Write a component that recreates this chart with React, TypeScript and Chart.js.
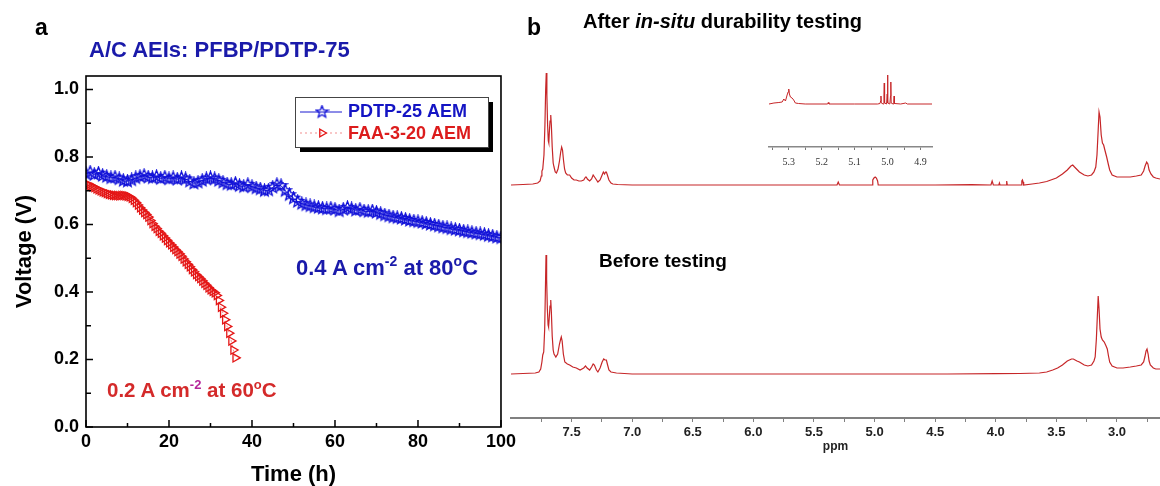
import React, { useEffect, useRef } from 'react';
import { Chart, registerables } from 'chart.js';
Chart.register(...registerables);

// ---------- Panel a data ----------
const BLUE_T = [0,1,2,3,4,5,6,7,8,9,10,11,12,13,14,15,16,17,18,19,20,21,22,23,24,25,26,27,28,29,30,31,32,33,34,35,36,37,38,39,40,41,42,43,44,45,46,47,48,49,50,51,52,53,54,55,56,57,58,59,60,61,62,63,64,65,66,67,68,69,70,71,72,73,74,75,76,77,78,79,80,81,82,83,84,85,86,87,88,89,90,91,92,93,94,95,96,97,98,99,100];
const BLUE_V = [0.750,0.755,0.748,0.752,0.745,0.742,0.738,0.740,0.735,0.730,0.728,0.732,0.738,0.742,0.745,0.740,0.738,0.742,0.736,0.740,0.735,0.738,0.734,0.738,0.735,0.728,0.722,0.725,0.730,0.735,0.738,0.735,0.730,0.725,0.720,0.718,0.722,0.715,0.712,0.718,0.712,0.708,0.705,0.700,0.702,0.710,0.718,0.715,0.700,0.688,0.678,0.668,0.662,0.658,0.655,0.652,0.650,0.648,0.646,0.648,0.645,0.640,0.645,0.650,0.646,0.642,0.645,0.640,0.638,0.640,0.636,0.632,0.628,0.625,0.622,0.620,0.618,0.615,0.612,0.610,0.608,0.606,0.603,0.600,0.598,0.595,0.592,0.590,0.587,0.585,0.583,0.580,0.578,0.576,0.574,0.572,0.570,0.567,0.565,0.562,0.560];
const RED_T = [0,0.5,1,1.5,2,2.5,3,3.5,4,4.5,5,5.5,6,6.5,7,7.5,8,8.5,9,9.5,10,10.5,11,11.5,12,12.5,13,13.5,14,14.5,15,15.5,16,16.5,17,17.5,18,18.5,19,19.5,20,20.5,21,21.5,22,22.5,23,23.5,24,24.5,25,25.5,26,26.5,27,27.5,28,28.5,29,29.5,30,30.5,31,31.5,32,32.5,33,33.5,34,34.5,35,35.5,36];
const RED_V = [0.720,0.718,0.715,0.712,0.710,0.706,0.703,0.700,0.697,0.695,0.692,0.690,0.688,0.687,0.686,0.686,0.685,0.686,0.686,0.685,0.684,0.682,0.678,0.672,0.665,0.658,0.650,0.643,0.636,0.630,0.622,0.612,0.603,0.595,0.588,0.580,0.574,0.567,0.560,0.553,0.546,0.540,0.533,0.526,0.520,0.513,0.506,0.498,0.490,0.482,0.475,0.467,0.460,0.452,0.446,0.440,0.433,0.426,0.420,0.413,0.407,0.402,0.398,0.390,0.375,0.355,0.337,0.318,0.298,0.278,0.255,0.228,0.205];
const SERIES_NAMES = ['PDTP-25 AEM', 'FAA-3-20 AEM'];
const X_TICKS_A = [0,10,20,30,40,50,60,70,80,90,100];
const X_LABELS_A = [0,20,40,60,80,100];
const Y_TICKS_A = [0,0.1,0.2,0.3,0.4,0.5,0.6,0.7,0.8,0.9,1.0];
const Y_LABELS_A = [0,0.2,0.4,0.6,0.8,1.0];

// ---------- Panel b data (ppm, intensity) ----------
const AFTER_PPM = [8.00,7.90,7.82,7.78,7.76,7.75,7.745,7.738,7.728,7.72,7.714,7.709,7.704,7.698,7.692,7.688,7.684,7.678,7.672,7.667,7.66,7.652,7.645,7.635,7.625,7.612,7.60,7.59,7.582,7.575,7.567,7.558,7.549,7.535,7.516,7.50,7.48,7.461,7.44,7.42,7.40,7.385,7.379,7.37,7.351,7.335,7.322,7.316,7.305,7.283,7.265,7.248,7.238,7.228,7.22,7.213,7.205,7.192,7.175,7.16,7.12,7.0,6.5,6.0,5.5,5.31,5.30,5.29,5.02,5.015,5.005,4.995,4.985,4.975,4.97,4.5,4.2,4.04,4.03,4.02,3.975,3.97,3.965,3.915,3.91,3.905,3.79,3.785,3.78,3.775,3.77,3.70,3.64,3.58,3.50,3.45,3.41,3.38,3.365,3.35,3.31,3.27,3.24,3.21,3.19,3.175,3.165,3.155,3.148,3.14,3.13,3.12,3.11,3.10,3.085,3.07,3.06,3.04,3.0,2.95,2.89,2.84,2.80,2.78,2.768,2.755,2.745,2.735,2.72,2.70,2.68,2.645];
const AFTER_INT = [0,0.5,1,2,4,9,14,16,30,60,95,112,90,60,44,42,52,64,70,60,38,22,18,13,12,16,24,33,38,35,25,16,12,10,10,7,5,5,4,4,5,8,8,6,4,6,10,10,7,3,5,10,13,11,13,13,10,5,2,1,0.5,0,0,0,0,0,3,0,0,5,7,8,7,4,0,0,0.3,0,4,0,0,2,0,0,4,0,0,4,5,3,0,1,2,3.5,7,11,15,19,20,18,13,10,9,10,13,18,30,55,73,68,50,42,40,35,28,20,15,10,8,8,8,9,10,14,19,23,21,15,11,8,7,6];
const BEFORE_PPM = [8.00,7.90,7.80,7.77,7.755,7.745,7.738,7.73,7.722,7.716,7.711,7.706,7.70,7.694,7.69,7.685,7.678,7.672,7.667,7.66,7.652,7.645,7.63,7.615,7.60,7.59,7.585,7.578,7.568,7.556,7.535,7.516,7.49,7.461,7.43,7.40,7.385,7.372,7.351,7.335,7.322,7.312,7.295,7.283,7.265,7.248,7.235,7.225,7.213,7.205,7.192,7.175,7.13,7.0,6.0,5.0,4.4,4.0,3.8,3.64,3.58,3.53,3.49,3.45,3.41,3.375,3.36,3.33,3.31,3.27,3.24,3.21,3.19,3.18,3.17,3.163,3.155,3.148,3.14,3.13,3.12,3.105,3.09,3.08,3.07,3.06,3.04,3.0,2.95,2.89,2.84,2.80,2.78,2.77,2.76,2.752,2.743,2.735,2.725,2.70,2.68,2.645];
const BEFORE_INT = [0,0.5,1,2,5,12,19,22,45,85,119,95,65,49,47,55,68,74,62,38,24,20,17,20,30,35,37,33,20,12,10,9,7,6,4,6,8,6,4,7,10,9,4,2,6,12,15,14,14,10,4,2,1,0,0,0,0,0.3,0.5,1,2,4,6,9,13,15,15,13,12,9,8,9,13,17,35,55,78,65,45,37,34,32,28,25,18,12,8,6,6,7,8,9,12,17,23,25,20,13,9,6,5,5];
const INSET_PPM = [5.36,5.345,5.33,5.32,5.315,5.31,5.305,5.302,5.30,5.298,5.295,5.29,5.285,5.28,5.27,5.25,5.182,5.18,5.178,5.10,5.03,5.023,5.021,5.020,5.019,5.013,5.011,5.010,5.009,5.003,5.001,5.000,4.999,4.993,4.991,4.990,4.989,4.983,4.981,4.980,4.979,4.96,4.945,4.94,4.865];
const INSET_INT = [0,1,1.5,2,5,3,9,12,15,10,7,6,4,1,0.5,0,0,1.5,0,0,0,0.5,3,8,1,0,8,21,1,0,10,29,1,0,8,22,1,0,3,8,0.5,0,1,0,0];
const NMR_TICKS = [7.75,7.5,7.25,7.0,6.75,6.5,6.25,6.0,5.75,5.5,5.25,5.0,4.75,4.5,4.25,4.0,3.75,3.5,3.25,3.0,2.75];
const NMR_LABELS = [7.5,7.0,6.5,6.0,5.5,5.0,4.5,4.0,3.5,3.0];
const INSET_TICKS = [5.35,5.3,5.25,5.2,5.15,5.1,5.05,5.0,4.95,4.9];
const INSET_LABELS = [5.3,5.2,5.1,5.0,4.9];

const SANS = '"Liberation Sans", Arial, sans-serif';
const SERIF = '"Liberation Serif", "Times New Roman", serif';
const BLUE = '#1414c4';
const RED = '#dc1c1c';
const NMR_RED = '#c62628';

const has = (arr: number[], v: number) => arr.some((a) => Math.abs(a - v) < 1e-6);
const pts = (xs: number[], ys: number[]) => xs.map((x, i) => ({ x, y: ys[i] }));

function makeStar(): HTMLCanvasElement {
  const c = document.createElement('canvas');
  c.width = 15; c.height = 15;
  const g = c.getContext('2d')!;
  g.strokeStyle = '#1010d8';
  g.lineWidth = 1.3;
  g.beginPath();
  for (let i = 0; i < 10; i++) {
    const r = i % 2 === 0 ? 6.3 : 2.7;
    const a = -Math.PI / 2 + (i * Math.PI) / 5;
    const px = 7.5 + r * Math.cos(a), py = 7.5 + r * Math.sin(a);
    if (i === 0) g.moveTo(px, py); else g.lineTo(px, py);
  }
  g.closePath();
  g.stroke();
  return c;
}

function drawTri(ctx: CanvasRenderingContext2D, x: number, y: number, r: number) {
  ctx.beginPath();
  ctx.moveTo(x + r, y);
  ctx.lineTo(x - r * 0.5, y - r * 0.866);
  ctx.lineTo(x - r * 0.5, y + r * 0.866);
  ctx.closePath();
  ctx.stroke();
}

const frameTicksPlugin = {
  id: 'frameTicks',
  afterDraw(chart: any) {
    const { ctx, chartArea: a } = chart;
    const xs = chart.scales.x, ys = chart.scales.y;
    ctx.save();
    ctx.strokeStyle = '#000';
    ctx.lineWidth = 1.6;
    ctx.strokeRect(a.left, a.top, a.right - a.left, a.bottom - a.top);
    ctx.lineWidth = 1.5;
    ctx.beginPath();
    X_TICKS_A.forEach((v) => {
      const px = xs.getPixelForValue(v);
      const len = has(X_LABELS_A, v) ? 7 : 4;
      ctx.moveTo(px, a.bottom); ctx.lineTo(px, a.bottom - len);
    });
    Y_TICKS_A.forEach((v) => {
      const py = ys.getPixelForValue(v);
      const len = has(Y_LABELS_A, v) ? 7 : 5;
      ctx.moveTo(a.left, py); ctx.lineTo(a.left + len, py);
    });
    ctx.stroke();
    ctx.restore();
  },
};

function makeLegendPlugin(star: HTMLCanvasElement) {
  return {
    id: 'boxLegend',
    afterDraw(chart: any) {
      const ctx = chart.ctx as CanvasRenderingContext2D;
      const ds = chart.data.datasets;
      ctx.save();
      ctx.fillStyle = '#000';
      ctx.fillRect(300, 102, 193, 50);
      ctx.fillStyle = '#fff';
      ctx.fillRect(295, 97, 193, 50);
      ctx.strokeStyle = '#444';
      ctx.lineWidth = 1;
      ctx.strokeRect(295.5, 97.5, 193, 50);
      ctx.strokeStyle = ds[0].borderColor;
      ctx.lineWidth = 1;
      ctx.beginPath(); ctx.moveTo(300, 112); ctx.lineTo(342, 112); ctx.stroke();
      ctx.drawImage(star, 322 - 7.5, 112 - 7.5);
      ctx.strokeStyle = ds[1].borderColor;
      ctx.setLineDash([2, 3]);
      ctx.beginPath(); ctx.moveTo(300, 133); ctx.lineTo(342, 133); ctx.stroke();
      ctx.setLineDash([]);
      ctx.strokeStyle = ds[1].pointBorderColor;
      ctx.lineWidth = 1.3;
      drawTri(ctx, 322, 133, 4.5);
      ctx.font = `bold 18px ${SANS}`;
      ctx.textBaseline = 'middle';
      ctx.fillStyle = BLUE;
      ctx.fillText(ds[0].label, 348, 112);
      ctx.fillStyle = RED;
      ctx.fillText(ds[1].label, 348, 134);
      ctx.restore();
    },
  };
}

function Txt(props: { x: number; base: number; size: number; color?: string; weight?: string; family?: string; children: any }) {
  const { x, base, size, color = '#000', weight = 'bold', family = SANS } = props;
  return (
    <div style={{ position: 'absolute', left: x, top: base - 0.8465 * size, fontSize: size, lineHeight: `${size}px`, fontFamily: family, fontWeight: weight as any, color, whiteSpace: 'nowrap' }}>
      {props.children}
    </div>
  );
}

const supStyle = (color: string, size: number, raise: number): React.CSSProperties => ({ fontSize: size, position: 'relative', top: -raise, color });

export default function App() {
  const leftRef = useRef<HTMLCanvasElement>(null);
  const rightRef = useRef<HTMLCanvasElement>(null);
  const insetRef = useRef<HTMLCanvasElement>(null);

  useEffect(() => {
    const star = makeStar();
    const tickFontA = { family: SANS, size: 18, weight: 'bold' as const };
    const left = new Chart(leftRef.current!, {
      type: 'line',
      data: {
        datasets: [
          {
            label: SERIES_NAMES[0],
            data: pts(BLUE_T, BLUE_V),
            borderColor: '#1a1ad0',
            borderWidth: 1,
            pointStyle: star as any,
            pointRadius: 6,
            fill: false,
          },
          {
            label: SERIES_NAMES[1],
            data: pts(RED_T, RED_V),
            borderColor: 'rgba(240,130,130,0.9)',
            borderDash: [2, 3],
            borderWidth: 1,
            pointStyle: 'triangle',
            pointRotation: 90,
            pointRadius: 4.8,
            pointBorderColor: '#e41616',
            pointBackgroundColor: 'rgba(255,255,255,0)',
            pointBorderWidth: 1.3,
            fill: false,
          },
        ],
      },
      options: {
        animation: false,
        responsive: false,
        maintainAspectRatio: false,
        layout: { padding: { left: 0, top: 76, right: 18, bottom: 0 } },
        plugins: { legend: { display: false }, tooltip: { enabled: false } },
        scales: {
          x: {
            type: 'linear', min: 0, max: 100,
            grid: { display: false, drawTicks: false },
            border: { display: false },
            afterBuildTicks: (s: any) => { s.ticks = X_TICKS_A.map((v) => ({ value: v })); },
            afterFit: (s: any) => { s.height = 59; },
            ticks: { autoSkip: false, maxRotation: 0, padding: 4, color: '#000', font: tickFontA, callback: (v: any) => (has(X_LABELS_A, Number(v)) ? String(v) : '') },
            title: { display: true, text: 'Time (h)', color: '#000', font: { family: SANS, size: 22, weight: 'bold', lineHeight: 1 }, padding: { top: 0, bottom: 0 } },
          },
          y: {
            type: 'linear', min: 0, max: 1.04,
            grid: { display: false, drawTicks: false },
            border: { display: false },
            afterBuildTicks: (s: any) => { s.ticks = Y_TICKS_A.map((v) => ({ value: v })); },
            afterFit: (s: any) => { s.width = 86; },
            ticks: { autoSkip: false, padding: 7, color: '#000', font: tickFontA, callback: (v: any) => (has(Y_LABELS_A, Number(v)) ? Number(v).toFixed(1) : '') },
            title: { display: true, text: 'Voltage (V)', color: '#000', font: { family: SANS, size: 22, weight: 'bold', lineHeight: 1 }, padding: { top: 14, bottom: 0 } },
          },
        },
      },
      plugins: [frameTicksPlugin, makeLegendPlugin(star)],
    } as any);

    const right = new Chart(rightRef.current!, {
      type: 'line',
      data: {
        datasets: [
          { label: 'After in-situ durability testing', data: pts(AFTER_PPM, AFTER_INT), yAxisID: 'yA', borderColor: NMR_RED, borderWidth: 1.2, pointRadius: 0, fill: false },
          { label: 'Before testing', data: pts(BEFORE_PPM, BEFORE_INT), yAxisID: 'yB', borderColor: NMR_RED, borderWidth: 1.2, pointRadius: 0, fill: false },
        ],
      },
      options: {
        animation: false,
        responsive: false,
        maintainAspectRatio: false,
        layout: { padding: { left: 6, top: 60, right: 0, bottom: 0 } },
        plugins: { legend: { display: false }, tooltip: { enabled: false } },
        scales: {
          x: {
            type: 'linear', min: 2.645, max: 8.0, reverse: true,
            grid: { display: true, drawOnChartArea: false, drawTicks: true, tickLength: 4, color: '#808080', lineWidth: 1 },
            border: { display: true, color: '#808080', width: 2 },
            afterBuildTicks: (s: any) => { s.ticks = NMR_TICKS.map((v) => ({ value: v })); },
            afterFit: (s: any) => { s.height = 68; },
            ticks: { autoSkip: false, maxRotation: 0, padding: 3, color: '#222', font: { family: SANS, size: 13, weight: 'bold' }, callback: (v: any) => (has(NMR_LABELS, Number(v)) ? Number(v).toFixed(1) : '') },
            title: { display: true, text: 'ppm', color: '#222', font: { family: SANS, size: 12, weight: 'bold', lineHeight: 1 }, padding: { top: 0, bottom: 33 } },
          },
          yA: { type: 'linear', display: false, min: -233, max: 125 },
          yB: { type: 'linear', display: false, min: -44, max: 314 },
        },
      },
    } as any);

    const inset = new Chart(insetRef.current!, {
      type: 'line',
      data: {
        datasets: [
          { label: 'inset', data: pts(INSET_PPM, INSET_INT), borderColor: NMR_RED, borderWidth: 1, pointRadius: 0, fill: false },
        ],
      },
      options: {
        animation: false,
        responsive: false,
        maintainAspectRatio: false,
        layout: { padding: { left: 9, top: 10, right: 8, bottom: 0 } },
        plugins: { legend: { display: false }, tooltip: { enabled: false } },
        scales: {
          x: {
            type: 'linear', min: 4.865, max: 5.36, reverse: true,
            grid: { display: true, drawOnChartArea: false, drawTicks: true, tickLength: 3, color: '#777', lineWidth: 1 },
            border: { display: true, color: '#888', width: 1.5 },
            afterBuildTicks: (s: any) => { s.ticks = INSET_TICKS.map((v) => ({ value: v })); },
            afterFit: (s: any) => { s.height = 23; },
            ticks: { autoSkip: false, maxRotation: 0, padding: 6, color: '#333', font: { family: SERIF, size: 10 }, callback: (v: any) => (has(INSET_LABELS, Number(v)) ? Number(v).toFixed(1) : '') },
          },
          y: { type: 'linear', display: false, min: -43, max: 34 },
        },
      },
    } as any);

    return () => { left.destroy(); right.destroy(); inset.destroy(); };
  }, []);

  return (
    <div style={{ position: 'fixed', left: 0, top: 0, width: 1160, height: 486, background: '#fff', overflow: 'hidden' }}>
      <canvas ref={leftRef} width={520} height={486} style={{ position: 'absolute', left: 0, top: 0, width: 520, height: 486 }} />
      <canvas ref={rightRef} width={655} height={486} style={{ position: 'absolute', left: 505, top: 0, width: 655, height: 486 }} />
      <canvas ref={insetRef} width={180} height={110} style={{ position: 'absolute', left: 760, top: 60, width: 180, height: 110 }} />

      <Txt x={35} base={35} size={23}>a</Txt>
      <Txt x={89} base={58} size={22} color="#1a1aaa">A/C AEIs: PFBP/PDTP-75</Txt>
      <Txt x={296} base={276} size={22} color="#1a1aaa">
        0.4 A cm<span style={supStyle('#1a1aaa', 14, 9)}>-2</span> at 80<span style={supStyle('#1a1aaa', 14, 9)}>o</span>C
      </Txt>
      <Txt x={107} base={397} size={20.5} color="#d42a2a">
        0.2 A cm<span style={supStyle('#b5259a', 13, 8)}>-2</span> at 60<span style={supStyle('#d42a2a', 13, 8)}>o</span>C
      </Txt>

      <Txt x={527} base={35} size={23}>b</Txt>
      <Txt x={583} base={28} size={20}>
        After <i>in-situ</i> durability testing
      </Txt>
      <Txt x={599} base={267} size={19}>Before testing</Txt>
    </div>
  );
}
